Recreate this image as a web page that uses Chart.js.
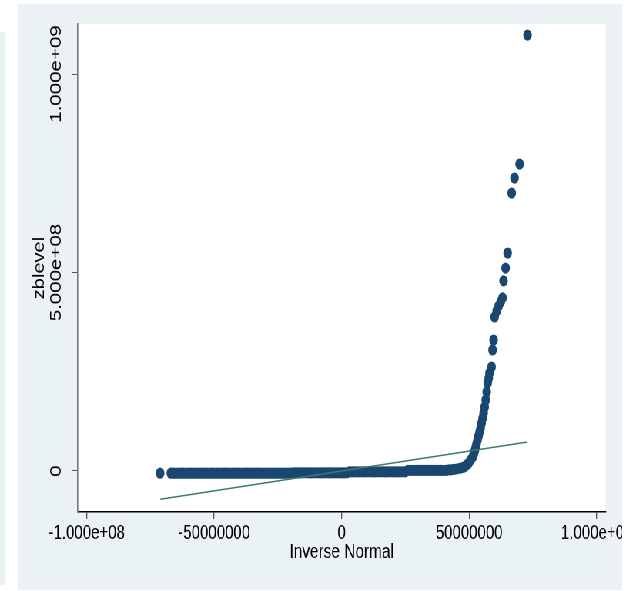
<!DOCTYPE html>
<html>
<head>
<meta charset="utf-8">
<script src="https://cdn.jsdelivr.net/npm/chart.js@4.4.1/dist/chart.umd.min.js"></script>
<style>
  html, body { margin: 0; padding: 0; background: #fff; overflow: hidden; }
  /* the stata export is squeezed sideways, so lay out wide and squeeze */
  #stage { position: absolute; left: 0; top: 0; width: 828.6px; height: 591px;
           transform: scaleX(0.77); transform-origin: 0 0; }
  #strip { position: absolute; left: 0; top: 32px; width: 6.5px; height: 553px; background: #eaf2f3; }
  #panel { position: absolute; left: 23.4px; top: 4px; width: 784.4px; height: 586px;
           overflow: hidden; background: #eaf2f3; }
  #chart { position: absolute; left: 0; top: 0; }
</style>
</head>
<body>
<div id="stage">
  <div id="strip"></div>
  <div id="panel"><canvas id="chart" width="805" height="586"></canvas></div>
</div>
<script>
// inverse normal quantiles (x) and sorted zblevel (y)
const qx = [
  -71.2e6,
  -67e6, -66e6, -65e6, -64e6, -63e6, -62e6, -61e6, -60e6, -59e6, -58e6,
  -57e6, -56e6, -55e6, -54e6, -53e6, -52e6, -51e6, -50e6, -49e6, -48e6,
  -47e6, -46e6, -45e6, -44e6, -43e6, -42e6, -41e6, -40e6, -39e6, -38e6,
  -37e6, -36e6, -35e6, -34e6, -33e6, -32e6, -31e6, -30e6, -29e6, -28e6,
  -27e6, -26e6, -25e6, -24e6, -23e6, -22e6, -21e6, -20e6, -19e6, -18e6,
  -17e6, -16e6, -15e6, -14e6, -13e6, -12e6, -11e6, -10e6, -9e6, -8e6,
  -7e6, -6e6, -5e6, -4e6, -3e6, -2e6, -1e6, 0, 1e6, 2e6,
  3e6, 4e6, 5e6, 6e6, 7e6, 8e6, 9e6, 10e6, 11e6, 12e6,
  13e6, 14e6, 15e6, 16e6, 17e6, 18e6, 19e6, 20e6, 21e6, 22e6,
  23e6, 24e6, 25e6, 26e6, 27e6, 28e6, 29e6, 30e6, 31e6, 32e6,
  33e6, 34e6, 35e6, 36e6, 37e6, 38e6, 39e6, 40e6, 41e6, 42e6,
  43e6, 44e6, 45e6,
  46.5e6, 47.8e6, 49.0e6, 49.8e6, 50.6e6, 51.4e6, 51.8e6, 52.2e6, 52.5e6, 52.9e6,
  53.3e6, 53.7e6, 54.1e6, 54.5e6, 54.9e6, 55.3e6, 55.7e6, 56.1e6, 56.5e6, 56.9e6,
  57.3e6, 57.7e6, 58.0e6, 58.8e6, 59.2e6, 59.6e6, 60.0e6, 60.8e6, 61.6e6, 62.4e6,
  63.1e6, 63.5e6, 64.3e6, 65.1e6, 66.7e6, 67.8e6, 69.8e6, 72.9e6
];
const qy = [
  -5.5e6,
  -5.5e6, -5.5e6, -5.5e6, -5.5e6, -5.5e6, -5.5e6, -5.5e6, -5.5e6, -5.5e6, -5.5e6,
  -5.5e6, -5.5e6, -5.5e6, -5.5e6, -5.5e6, -5.5e6, -5.5e6, -5.5e6, -5.5e6, -5.5e6,
  -5.5e6, -5.5e6, -5.5e6, -5.5e6, -5.5e6, -5.5e6, -5.5e6, -5.5e6, -5.5e6, -5.5e6,
  -5.5e6, -5.5e6, -5.5e6, -5.5e6, -5.5e6, -5.5e6, -5.5e6, -5.5e6, -5.5e6, -5.5e6,
  -5.5e6, -5.5e6, -5.5e6, -5.5e6, -5.5e6, -5.5e6, -5.5e6, -5.5e6, -4.8e6, -4.8e6,
  -4.8e6, -4.8e6, -4.8e6, -4.8e6, -4.8e6, -4.8e6, -4.8e6, -4.8e6, -4.8e6, -4.8e6,
  -4.8e6, -4.8e6, -4.8e6, -4.8e6, -4.8e6, -4.8e6, -4.8e6, -4.8e6, -4.8e6, -4.8e6,
  -2.0e6, -2.0e6, -2.0e6, -2.0e6, -2.0e6, -2.0e6, -2.0e6, -2.0e6, -2.0e6, -2.0e6,
  -2.0e6, -2.0e6, -2.0e6, -2.0e6, -2.0e6, -2.0e6, -2.0e6, -2.0e6, -2.0e6, -2.0e6,
  -2.0e6, -2.0e6, -2.0e6, 1.8e6, 1.8e6, 1.8e6, 1.8e6, 1.8e6, 1.8e6, 1.8e6,
  1.8e6, 1.8e6, 1.8e6, 1.8e6, 1.8e6, 1.8e6, 1.8e6, 1.8e6, 1.8e6, 3.0e6,
  3.0e6, 4.0e6, 5.0e6,
  7.0e6, 9.5e6, 15.0e6, 20.0e6, 27.5e6, 35.0e6, 43.0e6, 50.5e6, 58.0e6, 68.0e6,
  78.0e6, 88.0e6, 98.0e6, 108.0e6, 121.0e6, 133.0e6, 146.0e6, 161.0e6, 179.0e6, 199.0e6,
  222.0e6, 234.0e6, 247.0e6, 262.0e6, 305.0e6, 330.0e6, 388.0e6, 403.0e6, 416.0e6, 426.0e6,
  436.0e6, 479.0e6, 511.0e6, 549.0e6, 700.0e6, 738.0e6, 773.0e6, 1098.0e6
];
// reference line y = x
const refX = [-71.1e6, 72.9e6];
const refY = [-71.1e6, 72.9e6];

const xTicks = [-1e8, -5e7, 0, 5e7, 1e8];
const xTickLabels = ["-1.000e+08", "-50000000", "0", "50000000", "1.000e+08"];
const yTicks = [0, 5e8, 1e9];
const yTickLabels = ["0", "5.000e+08", "1.000e+09"];

const family = '"Liberation Sans", Arial, sans-serif';
const xFont = { family: family, size: 19.5 };
const yFont = { family: family, size: 20.5 };
const titleFont = { family: family, size: 20 };

// rotated y labels are centred from their unrotated width, so measure it
const mctx = document.createElement("canvas").getContext("2d");
mctx.font = yFont.size + "px " + family;
const widestY = Math.max(...yTickLabels.map(t => mctx.measureText(t).width));

const plotBg = {
  id: "plotBg",
  beforeDraw(chart) {
    const { ctx, chartArea: a } = chart;
    ctx.save();
    ctx.fillStyle = "#fff";
    ctx.fillRect(a.left, a.top, a.right - a.left, a.bottom - a.top);
    ctx.restore();
  }
};

new Chart(document.getElementById("chart"), {
  type: "scatter",
  data: {
    datasets: [
      {
        data: refX.map((x, i) => ({ x: x, y: refY[i] })),
        showLine: true,
        borderColor: "#3b7d6b",
        borderWidth: 1.6,
        pointRadius: 0,
        order: 0
      },
      {
        data: qx.map((x, i) => ({ x: x, y: qy[i] })),
        backgroundColor: "#1a476f",
        borderWidth: 0,
        pointRadius: 5.6,
        order: 1
      }
    ]
  },
  options: {
    responsive: false,
    animation: false,
    layout: { padding: { left: 0, right: 41.6, top: 20, bottom: 0 } },
    plugins: { legend: { display: false }, tooltip: { enabled: false } },
    scales: {
      x: {
        type: "linear",
        min: -1.035e8,
        max: 1.035e8,
        afterBuildTicks: s => { s.ticks = xTicks.map(v => ({ value: v })); },
        afterFit: s => { s.height = 78; s.paddingLeft = 0; s.paddingRight = 0; },
        ticks: {
          autoSkip: false, maxRotation: 0, minRotation: 0, padding: 3.4,
          color: "#000", font: xFont,
          callback: (v, i) => xTickLabels[i]
        },
        grid: { drawOnChartArea: false, tickLength: 7, color: "#555", lineWidth: 1.3 },
        border: { color: "#000", width: 1.5 },
        title: { display: true, text: "Inverse Normal", color: "#000", font: titleFont,
                 padding: { top: 0, bottom: 26 } }
      },
      y: {
        type: "linear",
        min: -1.033e8,
        max: 1.126e9,
        afterBuildTicks: s => { s.ticks = yTicks.map(v => ({ value: v })); },
        afterFit: s => { s.width = 78; s.paddingTop = 0; s.paddingBottom = 0; },
        ticks: {
          autoSkip: false, minRotation: 90, maxRotation: 90, crossAlign: "center",
          padding: 19.6 - widestY / 2,
          color: "#000", font: yFont,
          callback: (v, i) => yTickLabels[i]
        },
        grid: { drawOnChartArea: false, tickLength: 7.8, color: "#555", lineWidth: 1 },
        border: { color: "#777", width: 1.6 },
        title: { display: true, text: "zblevel", color: "#000", font: titleFont,
                 padding: { top: 16.5, bottom: 0 } }
      }
    }
  },
  plugins: [plotBg]
});
</script>
</body>
</html>
